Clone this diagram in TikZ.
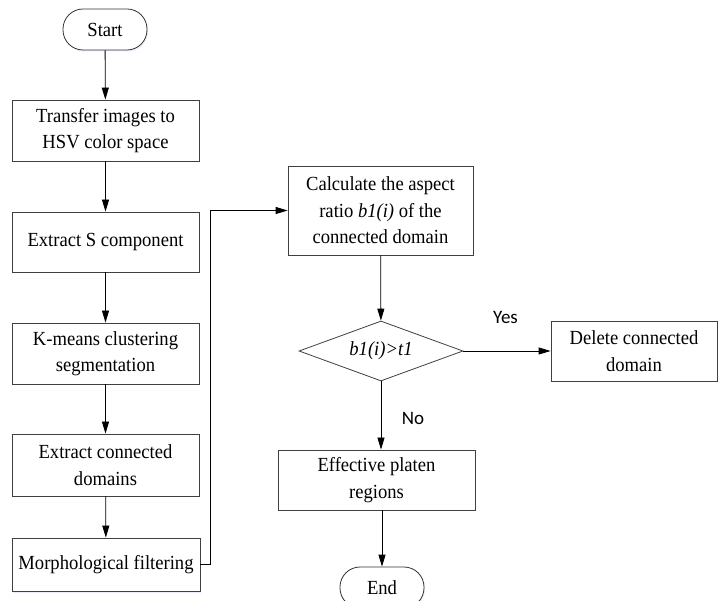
\documentclass[tikz,border=0pt]{standalone}
\usepackage{fontspec}
\setmainfont[FakeStretch=0.93]{Liberation Serif}
\newfontfamily\labelfont{Carlito}
\usetikzlibrary{shapes.geometric,arrows.meta,shadows}

\begin{document}
\begin{tikzpicture}[x=1pt,y=-1pt,
    boxnode/.style={rectangle, draw=black!75, fill=white, line width=0.8pt, align=center, inner sep=2pt, font=\fontsize{20}{26.5}\selectfont, drop shadow={shadow xshift=1pt, shadow yshift=-1.5pt, fill=blue!12, opacity=0.6}},
    termnode/.style={rectangle, rounded corners=20pt, draw=black!80, fill=white, line width=0.8pt, minimum width=84pt, minimum height=41pt, inner sep=0pt, font=\fontsize{20}{24}\selectfont, drop shadow={shadow xshift=1pt, shadow yshift=-1.5pt, fill=blue!12, opacity=0.6}},
    decnode/.style={diamond, draw=black!75, fill=white, line width=0.8pt, minimum width=164pt, minimum height=60pt, inner sep=0pt, aspect=2.7, font=\fontsize{20}{24}\selectfont},
    arr/.style={-{Triangle[length=12pt,width=7pt]}, line width=0.8pt},
    yesno/.style={font=\labelfont\fontsize{19}{22}\selectfont, inner sep=0pt}
    ]
    \useasboundingbox (0,0) rectangle (726,601);

    \node [termnode] (start) at (105, 29.5) {Start};

    \node [boxnode, minimum width=187pt, minimum height=61pt] (trans) at (105.5, 130.5) {Transfer images to\\HSV color space};
    \node [boxnode, minimum width=187pt, minimum height=60pt] (sext) at (105.5, 242) {Extract S component};
    \node [boxnode, minimum width=187pt, minimum height=61pt] (kmeans) at (105.5, 353.5) {K-means clustering\\segmentation};
    \node [boxnode, minimum width=187pt, minimum height=62pt] (conn) at (105.5, 465) {Extract connected\\domains};
    \node [boxnode, minimum width=188pt, minimum height=53pt] (morph) at (106, 564.5) {Morphological filtering};

    \node [boxnode, minimum width=185pt, minimum height=89pt] (calc) at (380.5, 210.5) {Calculate the aspect\\ratio \textit{b1(i)} of the\\connected domain};
    \node [decnode] (dec) at (381, 351) {\textit{b1(i)>t1}};
    \node [boxnode, minimum width=166pt, minimum height=60pt] (del) at (634, 351) {Delete connected\\domain};
    \node [boxnode, minimum width=197pt, minimum height=60pt] (eff) at (376.5, 480) {Effective platen\\regions};
    \node [termnode] (fin) at (382, 587.5) {End};

    \node [yesno] (yes) at (505.5, 317.5) {Yes};
    \node [yesno] (no) at (413, 418) {No};

    \coordinate (bend) at (210, 0);

    \draw [arr] (start) -- (trans);
    \draw [arr] (trans) -- (sext);
    \draw [arr] (sext) -- (kmeans);
    \draw [arr] (kmeans) -- (conn);
    \draw [arr] (conn) -- (morph);
    \draw [arr] (morph.east) -- (morph.east -| bend) -- (bend |- calc.west) -- (calc.west);
    \draw [arr] (calc) -- (dec);
    \draw [arr] (dec) -- (del);
    \draw [arr] (dec) -- (dec |- eff.north);
    \draw [arr] (fin |- eff.south) -- (fin);
  \end{tikzpicture}
\end{document}
